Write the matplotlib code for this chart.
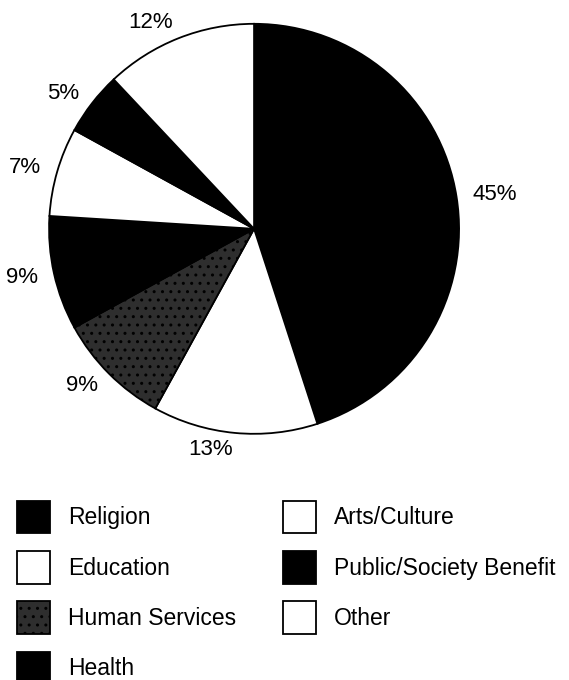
import matplotlib.pyplot as plt
from matplotlib.patches import Patch

plt.rcParams['font.family'] = ['Liberation Sans', 'DejaVu Sans']
plt.rcParams['hatch.linewidth'] = 1.0

# доли пожертвований по направлениям
categories = ['Religion', 'Education', 'Human Services', 'Health',
              'Arts/Culture', 'Public/Society Benefit', 'Other']
shares = [45, 13, 9, 9, 7, 5, 12]
pct_labels = ['45%', '13%', '9%', '9%', '7%', '5%', '12%']

colors = ['black', 'white', '#2e2e2e', 'black', 'white', 'black', 'white']

fig = plt.figure(figsize=(5.69, 6.8), dpi=100)
ax = fig.add_axes([0.079, 0.356, 0.735, 0.615])

wedges, texts = ax.pie(shares, labels=pct_labels, colors=colors,
                       startangle=90, counterclock=False,
                       labeldistance=1.08,
                       wedgeprops={'edgecolor': 'black', 'linewidth': 1.3},
                       textprops={'fontsize': 16})
ax.set_xlim(-1.02, 1.02)
ax.set_ylim(-1.02, 1.02)
ax.set_aspect('equal')

# текстура для Human Services
wedges[2].set_hatch('..')

handles = [Patch(facecolor=c, edgecolor='black', linewidth=1.3) for c in colors]
handles[2].set_hatch('..')
fig.legend(handles, categories, loc='upper left', bbox_to_anchor=(0.013, 0.277),
           ncol=2, frameon=False, fontsize=16.5, handlelength=1.45, handleheight=1.8,
           labelspacing=0.78, columnspacing=2.07, handletextpad=0.78,
           borderpad=0.4, borderaxespad=0)

fig.savefig('out.png', dpi=100)
